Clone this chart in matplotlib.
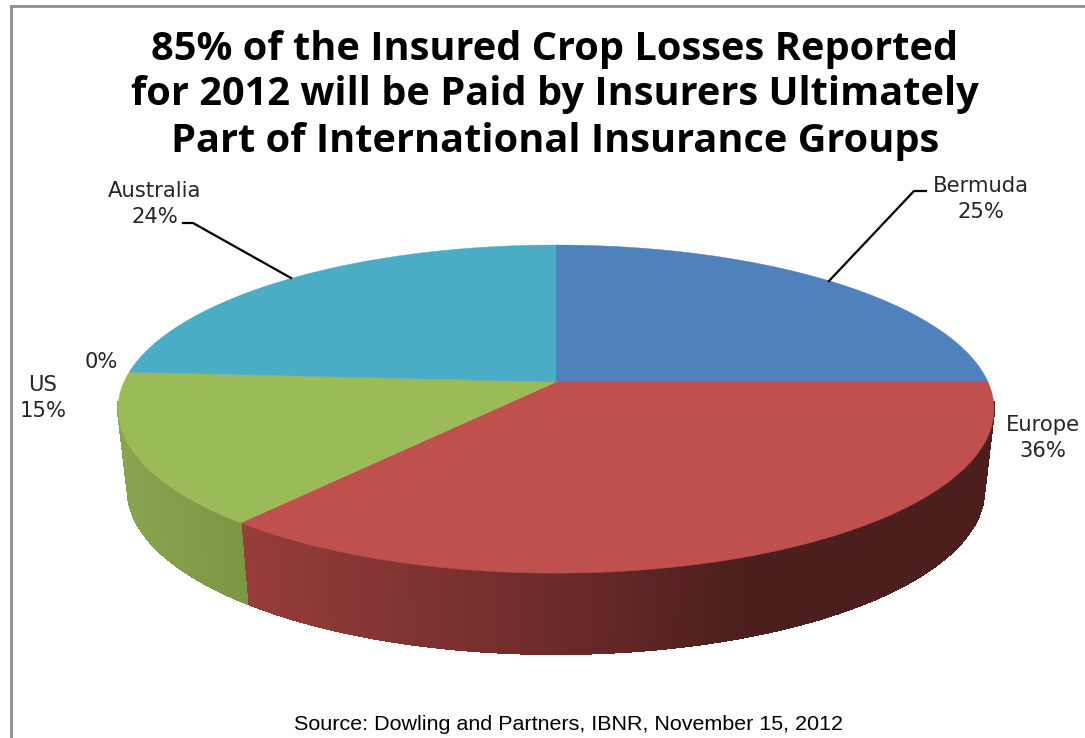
import numpy as np
from matplotlib import pyplot as plt
from matplotlib.collections import PolyCollection

categories = ["Bermuda", "Europe", "US", "", "Australia"]
shares = [25, 36, 15, 0, 24]
colors = ["#4f81bd", "#c0504d", "#9bbb59", "#9bbb59", "#4bacc6"]
title_lines = ["85% of the Insured Crop Losses Reported",
               "for 2012 will be Paid by Insurers Ultimately",
               "Part of International Insurance Groups"]
source = "Source: Dowling and Partners, IBNR, November 15, 2012"

# pixel layout of the fake 3d disc
CX, CY = 556, 382
A, B, K = 432, 159.6, 0.165
DEPTH = 81
LOWER_SCALE = 0.978


def project(theta):
    # theta in degrees, clockwise from the top of the disc
    t = np.radians(theta)
    w = 1 + K * np.cos(t)
    return CX + A * np.sin(t) / w, CY - B * np.cos(t) / w


def wall_color(x, stops):
    xs = [s[0] for s in stops]
    rgb = [np.interp(x, xs, [s[1][i] for s in stops]) / 255 for i in range(3)]
    return tuple(rgb)


green_wall = [(120, (136, 164, 82)), (245, (122, 150, 68))]
red_wall = [(240, (150, 61, 58)), (500, (116, 46, 45)), (745, (76, 31, 30)), (1000, (76, 31, 30))]

fig = plt.figure(figsize=(10.85, 7.38), dpi=100)
ax = fig.add_axes([0, 0, 1, 1])
ax.set_xlim(0, 1085)
ax.set_ylim(738, 0)
ax.axis("off")

# frame of the slide, only left and top are visible
ax.plot([11, 11, 1085], [738, 6, 6], color="#8c8c8c", lw=2, solid_joinstyle="miter")

edges = np.concatenate([[0], np.cumsum(shares)]) * 3.6

# side wall first, as thin strips so the shading follows x
for i in range(len(shares)):
    if shares[i] == 0:
        continue
    # the wall only shows below the widest points of the disc
    lo, hi = max(edges[i], 97), min(edges[i + 1], 263)
    if hi <= lo:
        continue
    stops = green_wall if categories[i] == "US" else red_wall
    angles = np.arange(lo, hi + 0.5, 0.5)
    polys, cols = [], []
    for a0, a1 in zip(angles[:-1], angles[1:]):
        x0, y0 = project(a0)
        x1, y1 = project(a1)
        polys.append([(x0, y0), (x1, y1),
                      (CX + (x1 - CX) * LOWER_SCALE, y1 + DEPTH),
                      (CX + (x0 - CX) * LOWER_SCALE, y0 + DEPTH)])
        cols.append(wall_color((x0 + x1) / 2, stops))
    ax.add_collection(PolyCollection(polys, facecolors=cols, edgecolors=cols,
                                     linewidths=0.6, antialiaseds=False))

# top face
for i in range(len(shares)):
    if shares[i] == 0:
        continue
    x, y = project(np.linspace(edges[i], edges[i + 1], 200))
    ax.fill(np.r_[CX, x], np.r_[CY, y], color=colors[i], lw=0.3)

# leader lines
ax.plot([926, 914, 829], [191, 191, 281], color="black", lw=1.6)
ax.plot([183, 193, 291], [223, 223, 278], color="black", lw=1.6)

# data labels
label_font = dict(family="DejaVu Sans", fontsize=15.2, color="#262626", ha="center", va="center")
label_pos = {"Bermuda": (981, 199), "Europe": (1043, 438), "US": (43, 398), "": (101, 362), "Australia": (155, 204)}
for name, val in zip(categories, shares):
    lx, ly = label_pos[name]
    txt = f"{name}\n{val}%" if name else f"{val}%"
    ax.text(lx, ly, txt, linespacing=1.32, **label_font)

for line, y in zip(title_lines, [60, 105, 152]):
    ax.text(555, y, line, family="Open Sans", weight="bold", fontsize=28.6, color="black", ha="center", va="baseline")

ax.text(569, 725, source, family="Liberation Sans", fontsize=15.45, color="black", ha="center", va="center")

fig.savefig("out.png", dpi=100)
